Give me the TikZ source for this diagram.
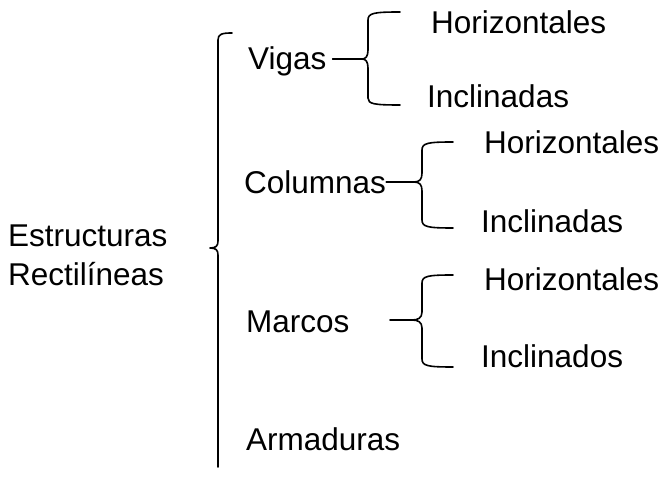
\documentclass[tikz,border=0pt]{standalone}
\usepackage{fontspec}
\setmainfont{Liberation Sans}
\begin{document}
\begin{tikzpicture}[x=1pt,y=-1pt,
  lbl/.style={anchor=base west,inner sep=0pt,font=\fontsize{31.5}{36}\selectfont},
  brace/.style={line width=1.6pt,line cap=round,line join=round}]
\useasboundingbox (0,0) rectangle (665,478);

% labels
\node[lbl] (est) at (8,247) {Estructuras};
\node[lbl] (rec) at (8,286) {Rectilíneas};
\node[lbl] (vig) at (248,70) {Vigas};
\node[lbl] (col) at (244,194) {Columnas};
\node[lbl] (mar) at (246,333) {Marcos};
\node[lbl] (arm) at (246,451) {Armaduras};
\node[lbl] (h1) at (431,34) {Horizontales};
\node[lbl] (i1) at (427,108) {Inclinadas};
\node[lbl] (h2) at (484,154) {Horizontales};
\node[lbl] (i2) at (481,233) {Inclinadas};
\node[lbl] (h3) at (484,291) {Horizontales};
\node[lbl] (i3) at (481,368) {Inclinados};

% main brace
\draw[brace] (232,33) .. controls (222,33) and (218,34) .. (218,40)
  -- (218,241) .. controls (218,246) and (216,248) .. (210,248)
  .. controls (216,248) and (218,250) .. (218,255) -- (218,467);

% brace of Vigas
\coordinate (cv) at (362,59);
\draw[brace] (vig.east|-cv) ++(6,0) -- (cv);
\draw[brace] (400,12) .. controls (374,12) and (368,13) .. (368,20)
  -- (368,50) .. controls (368,56) and (366,59) .. (cv)
  .. controls (366,59) and (368,62) .. (368,68)
  -- (368,98) .. controls (368,104) and (374,105) .. (400,105);

% brace of Columnas
\coordinate (cc) at (414,182);
\draw[brace] (col.east|-cc) -- (cc);
\draw[brace] (453,142) .. controls (428,142) and (422,143) .. (422,150)
  -- (422,173) .. controls (422,179) and (420,182) .. (cc)
  .. controls (420,182) and (422,185) .. (422,191)
  -- (422,220) .. controls (422,227) and (428,228) .. (453,228);

% brace of Marcos
\coordinate (cm) at (390,320);
\draw[brace] (cm) -- (412,320) .. controls (418,320) and (422,318) .. (422,312)
  -- (422,283) .. controls (422,276) and (428,275) .. (453,275);
\draw[brace] (412,320) .. controls (418,320) and (422,322) .. (422,328)
  -- (422,359) .. controls (422,366) and (428,367) .. (453,367);
\end{tikzpicture}
\end{document}
